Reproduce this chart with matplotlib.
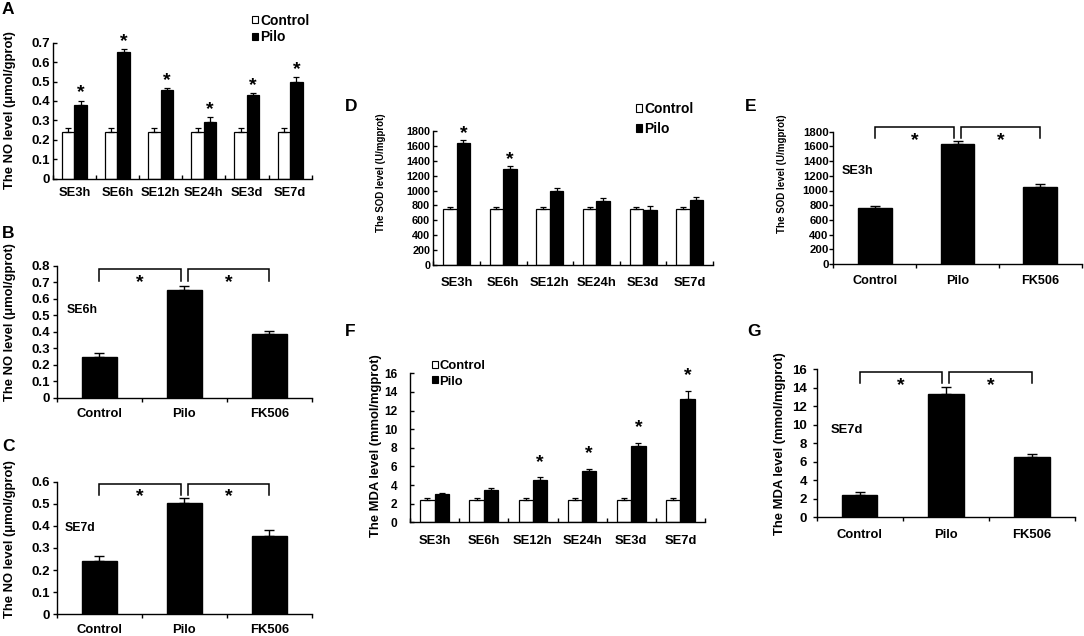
import numpy as np
import matplotlib
matplotlib.use("Agg")
import matplotlib.pyplot as plt
from matplotlib.patches import Patch
from matplotlib import font_manager

plt.rcParams["font.family"] = ["Liberation Sans", "DejaVu Sans"]
plt.rcParams["font.weight"] = "bold"
plt.rcParams["axes.labelweight"] = "bold"

# ---- data ----
time_labels = ["SE3h", "SE6h", "SE12h", "SE24h", "SE3d", "SE7d"]
group_labels = ["Control", "Pilo", "FK506"]

# A: NO level over time
no_ctrl = [0.24, 0.24, 0.24, 0.24, 0.24, 0.24]
no_ctrl_err = [0.022, 0.022, 0.022, 0.022, 0.022, 0.022]
no_pilo = [0.38, 0.65, 0.455, 0.29, 0.43, 0.50]
no_pilo_err = [0.022, 0.017, 0.011, 0.026, 0.010, 0.024]
no_sig = [True, True, True, True, True, True]

# B: NO level at SE6h
no_se6h = [0.244, 0.655, 0.386]
no_se6h_err = [0.024, 0.022, 0.017]

# C: NO level at SE7d
no_se7d = [0.243, 0.502, 0.356]
no_se7d_err = [0.022, 0.023, 0.024]

# D: SOD level over time
sod_ctrl = [750, 750, 750, 750, 750, 750]
sod_ctrl_err = [35, 35, 35, 35, 35, 35]
sod_pilo = [1635, 1294, 994, 860, 739, 873]
sod_pilo_err = [45, 36, 45, 36, 54, 45]
sod_sig = [True, True, False, False, False, False]

# E: SOD level at SE3h
sod_se3h = [757, 1632, 1043]
sod_se3h_err = [32, 41, 40]

# F: MDA level over time
mda_ctrl = [2.36, 2.36, 2.36, 2.36, 2.36, 2.36]
mda_ctrl_err = [0.24, 0.24, 0.24, 0.24, 0.24, 0.24]
mda_pilo = [3.0, 3.46, 4.54, 5.46, 8.14, 13.25]
mda_pilo_err = [0.14, 0.18, 0.28, 0.29, 0.36, 0.82]
mda_sig = [False, False, True, True, True, True]

# G: MDA level at SE7d
mda_se7d = [2.45, 13.3, 6.5]
mda_se7d_err = [0.25, 0.83, 0.33]

# the SOD axis titles are squeezed in the original; use the narrow face if it is there
installed = {f.name for f in font_manager.fontManager.ttflist}
if "Liberation Sans Narrow" in installed:
    sod_font, sod_size = ["Liberation Sans Narrow", "Liberation Sans"], 8.4
else:
    sod_font, sod_size = ["Liberation Sans", "DejaVu Sans"], 7.0

W, H = 1084, 636
fig = plt.figure(figsize=(W / 100, H / 100), dpi=100)


def place(x0, x1, ytop, ybot):
    return fig.add_axes([x0 / W, 1 - ybot / H, (x1 - x0) / W, (ybot - ytop) / H])


def style(ax, labels, direction, xsize, ysize, xpad, ypad, ylim, yticks, ylabels):
    for s in ["top", "right"]:
        ax.spines[s].set_visible(False)
    for s in ["left", "bottom"]:
        ax.spines[s].set_linewidth(1.0)
    n = len(labels)
    ax.set_xlim(-0.5, n - 0.5)
    ax.set_xticks(np.arange(n + 1) - 0.5, [""] * (n + 1))
    ax.set_xticks(np.arange(n), labels, minor=True)
    ax.set_ylim(*ylim)
    ax.set_yticks(yticks, ylabels)
    ax.tick_params(axis="both", which="major", direction=direction, length=2.8, width=1)
    ax.tick_params(axis="y", labelsize=ysize, pad=ypad)
    ax.tick_params(axis="x", which="minor", length=0, labelsize=xsize, pad=xpad)


def ylab(ax, text, size, xr, yc, family=None):
    if family is None:
        ax.set_ylabel(text, fontsize=size)
    else:
        ax.set_ylabel(text, fontsize=size, family=family)
    ax.yaxis.set_label_coords(xr / W, 1 - yc / H, transform=fig.transFigure)


def grouped(ax, ctrl, ctrl_err, pilo, pilo_err, sig, star_off, leg_xy, leg_sp, leg_fs):
    x = np.arange(len(ctrl))
    w = 0.29
    ek = dict(ecolor="black", elinewidth=0.9, capsize=2.5, capthick=0.9)
    ax.bar(x - w / 2, ctrl, w, color="white", edgecolor="black", linewidth=0.9,
           yerr=[np.zeros(len(ctrl)), ctrl_err], error_kw=ek)
    ax.bar(x + w / 2, pilo, w, color="black", edgecolor="black", linewidth=0.9,
           yerr=[np.zeros(len(pilo)), pilo_err], error_kw=ek)
    for i in range(len(pilo)):
        if sig[i]:
            ax.annotate("*", (x[i] + w / 2, pilo[i] + pilo_err[i]), xytext=(0, star_off),
                        textcoords="offset points", ha="center", va="center",
                        fontsize=14, fontweight="bold", annotation_clip=False)
    handles = [Patch(facecolor="white", edgecolor="black", linewidth=0.8, label="Control"),
               Patch(facecolor="black", edgecolor="black", linewidth=0.8, label="Pilo")]
    ax.legend(handles=handles, loc="center left",
              bbox_to_anchor=(leg_xy[0] / W, 1 - leg_xy[1] / H), bbox_transform=fig.transFigure,
              frameon=False, fontsize=leg_fs, handlelength=0.45, handleheight=0.45,
              handletextpad=0.15, labelspacing=leg_sp, borderpad=0, borderaxespad=0)


def single(ax, vals, errs, top, bottom, tag, tag_xy, tag_fs):
    x = np.arange(len(vals))
    ax.bar(x, vals, 0.41, color="black", edgecolor="black",
           yerr=[np.zeros(len(vals)), errs],
           error_kw=dict(ecolor="black", elinewidth=1.0, capsize=3.5, capthick=1.0))
    gap = 0.04
    for a, b in [(x[0], x[1] - gap), (x[1] + gap, x[2])]:
        ax.plot([a, a, b, b], [bottom, top, top, bottom], color="black", lw=1.1,
                clip_on=False, solid_joinstyle="miter")
        ax.annotate("*", ((a + b) / 2, bottom), xytext=(0, -1.5), textcoords="offset points",
                    ha="center", va="center", fontsize=14, fontweight="bold",
                    annotation_clip=False)
    ax.text(tag_xy[0], tag_xy[1], tag, transform=ax.transAxes, ha="left", va="center",
            fontsize=tag_fs, fontweight="bold")


# ---- A ----
axA = place(52.7, 311.7, 42.7, 178.7)
grouped(axA, no_ctrl, no_ctrl_err, no_pilo, no_pilo_err, no_sig, 5.5, (252, 29), 0.2, 10)
style(axA, time_labels, "in", 9.3, 9.5, 6.0, 2.2, (0, 0.7),
      [0, 0.1, 0.2, 0.3, 0.4, 0.5, 0.6, 0.7], ["0", "0.1", "0.2", "0.3", "0.4", "0.5", "0.6", "0.7"])
ylab(axA, "The NO level (\u03bcmol/gprot)", 9.4, 16, 110)

# ---- B ----
axB = place(56.7, 312, 265.7, 397.7)
single(axB, no_se6h, no_se6h_err, 0.78, 0.71, "SE6h", (0.04, 0.664), 8.8)
style(axB, group_labels, "out", 9.4, 9.5, 7.2, 2.0, (0, 0.8),
      [0, 0.1, 0.2, 0.3, 0.4, 0.5, 0.6, 0.7, 0.8],
      ["0", "0.1", "0.2", "0.3", "0.4", "0.5", "0.6", "0.7", "0.8"])
ylab(axB, "The NO level (\u03bcmol/gprot)", 9.4, 16, 322)

# ---- C ----
axC = place(56.7, 312, 481.7, 614.3)
single(axC, no_se7d, no_se7d_err, 0.588, 0.54, "SE7d", (0.033, 0.651), 8.8)
style(axC, group_labels, "out", 9.4, 9.5, 7.2, 2.0, (0, 0.6),
      [0, 0.1, 0.2, 0.3, 0.4, 0.5, 0.6], ["0", "0.1", "0.2", "0.3", "0.4", "0.5", "0.6"])
ylab(axC, "The NO level (\u03bcmol/gprot)", 9.4, 16, 539)

# ---- D ----
axD = place(433.3, 713, 131, 265)
grouped(axD, sod_ctrl, sod_ctrl_err, sod_pilo, sod_pilo_err, sod_sig, 4.3, (636, 119), 0.45, 10)
style(axD, time_labels, "in", 9.4, 7.8, 8.9, 2.2, (0, 1800),
      list(range(0, 1801, 200)), [str(v) for v in range(0, 1801, 200)])
ylab(axD, "The SOD level (U/mgprot)", sod_size, 386, 172.5, sod_font)

# ---- E ----
axE = place(833.3, 1081.7, 131.7, 264)
single(axE, sod_se3h, sod_se3h_err, 1868, 1709, "SE3h", (0.034, 0.705), 9.1)
style(axE, group_labels, "out", 9.1, 8.2, 7.7, 0.6, (0, 1800),
      list(range(0, 1801, 200)), [str(v) for v in range(0, 1801, 200)])
ylab(axE, "The SOD level (U/mgprot)", sod_size, 787, 174, sod_font)

# ---- F ----
axF = place(410, 705, 373.3, 522.3)
grouped(axF, mda_ctrl, mda_ctrl_err, mda_pilo, mda_pilo_err, mda_sig, 11.0, (431.7, 374), 0.25, 9.4)
style(axF, time_labels, "in", 9.4, 8.6, 9.0, 9.0, (0, 16),
      list(range(0, 17, 2)), [str(v) for v in range(0, 17, 2)])
ylab(axF, "The MDA level (mmol/mgprot)", 9.4, 382, 445.5)

# ---- G ----
axG = place(816.7, 1075, 369.3, 517.3)
single(axG, mda_se7d, mda_se7d_err, 15.7, 14.5, "SE7d", (0.054, 0.59), 9.4)
style(axG, group_labels, "out", 9.4, 9.5, 8.3, 4.3, (0, 16),
      list(range(0, 17, 2)), [str(v) for v in range(0, 17, 2)])
ylab(axG, "The MDA level (mmol/mgprot)", 9.4, 786, 443.5)

# panel letters
for letter, (px, py) in {"A": (2, 2), "B": (2, 226), "C": (2, 439), "D": (345, 99),
                         "E": (745, 99), "F": (345, 324), "G": (747, 324)}.items():
    fig.text(px / W, 1 - py / H, letter, ha="left", va="top", fontsize=12.5, fontweight="bold")

fig.savefig("out.png", dpi=100)
